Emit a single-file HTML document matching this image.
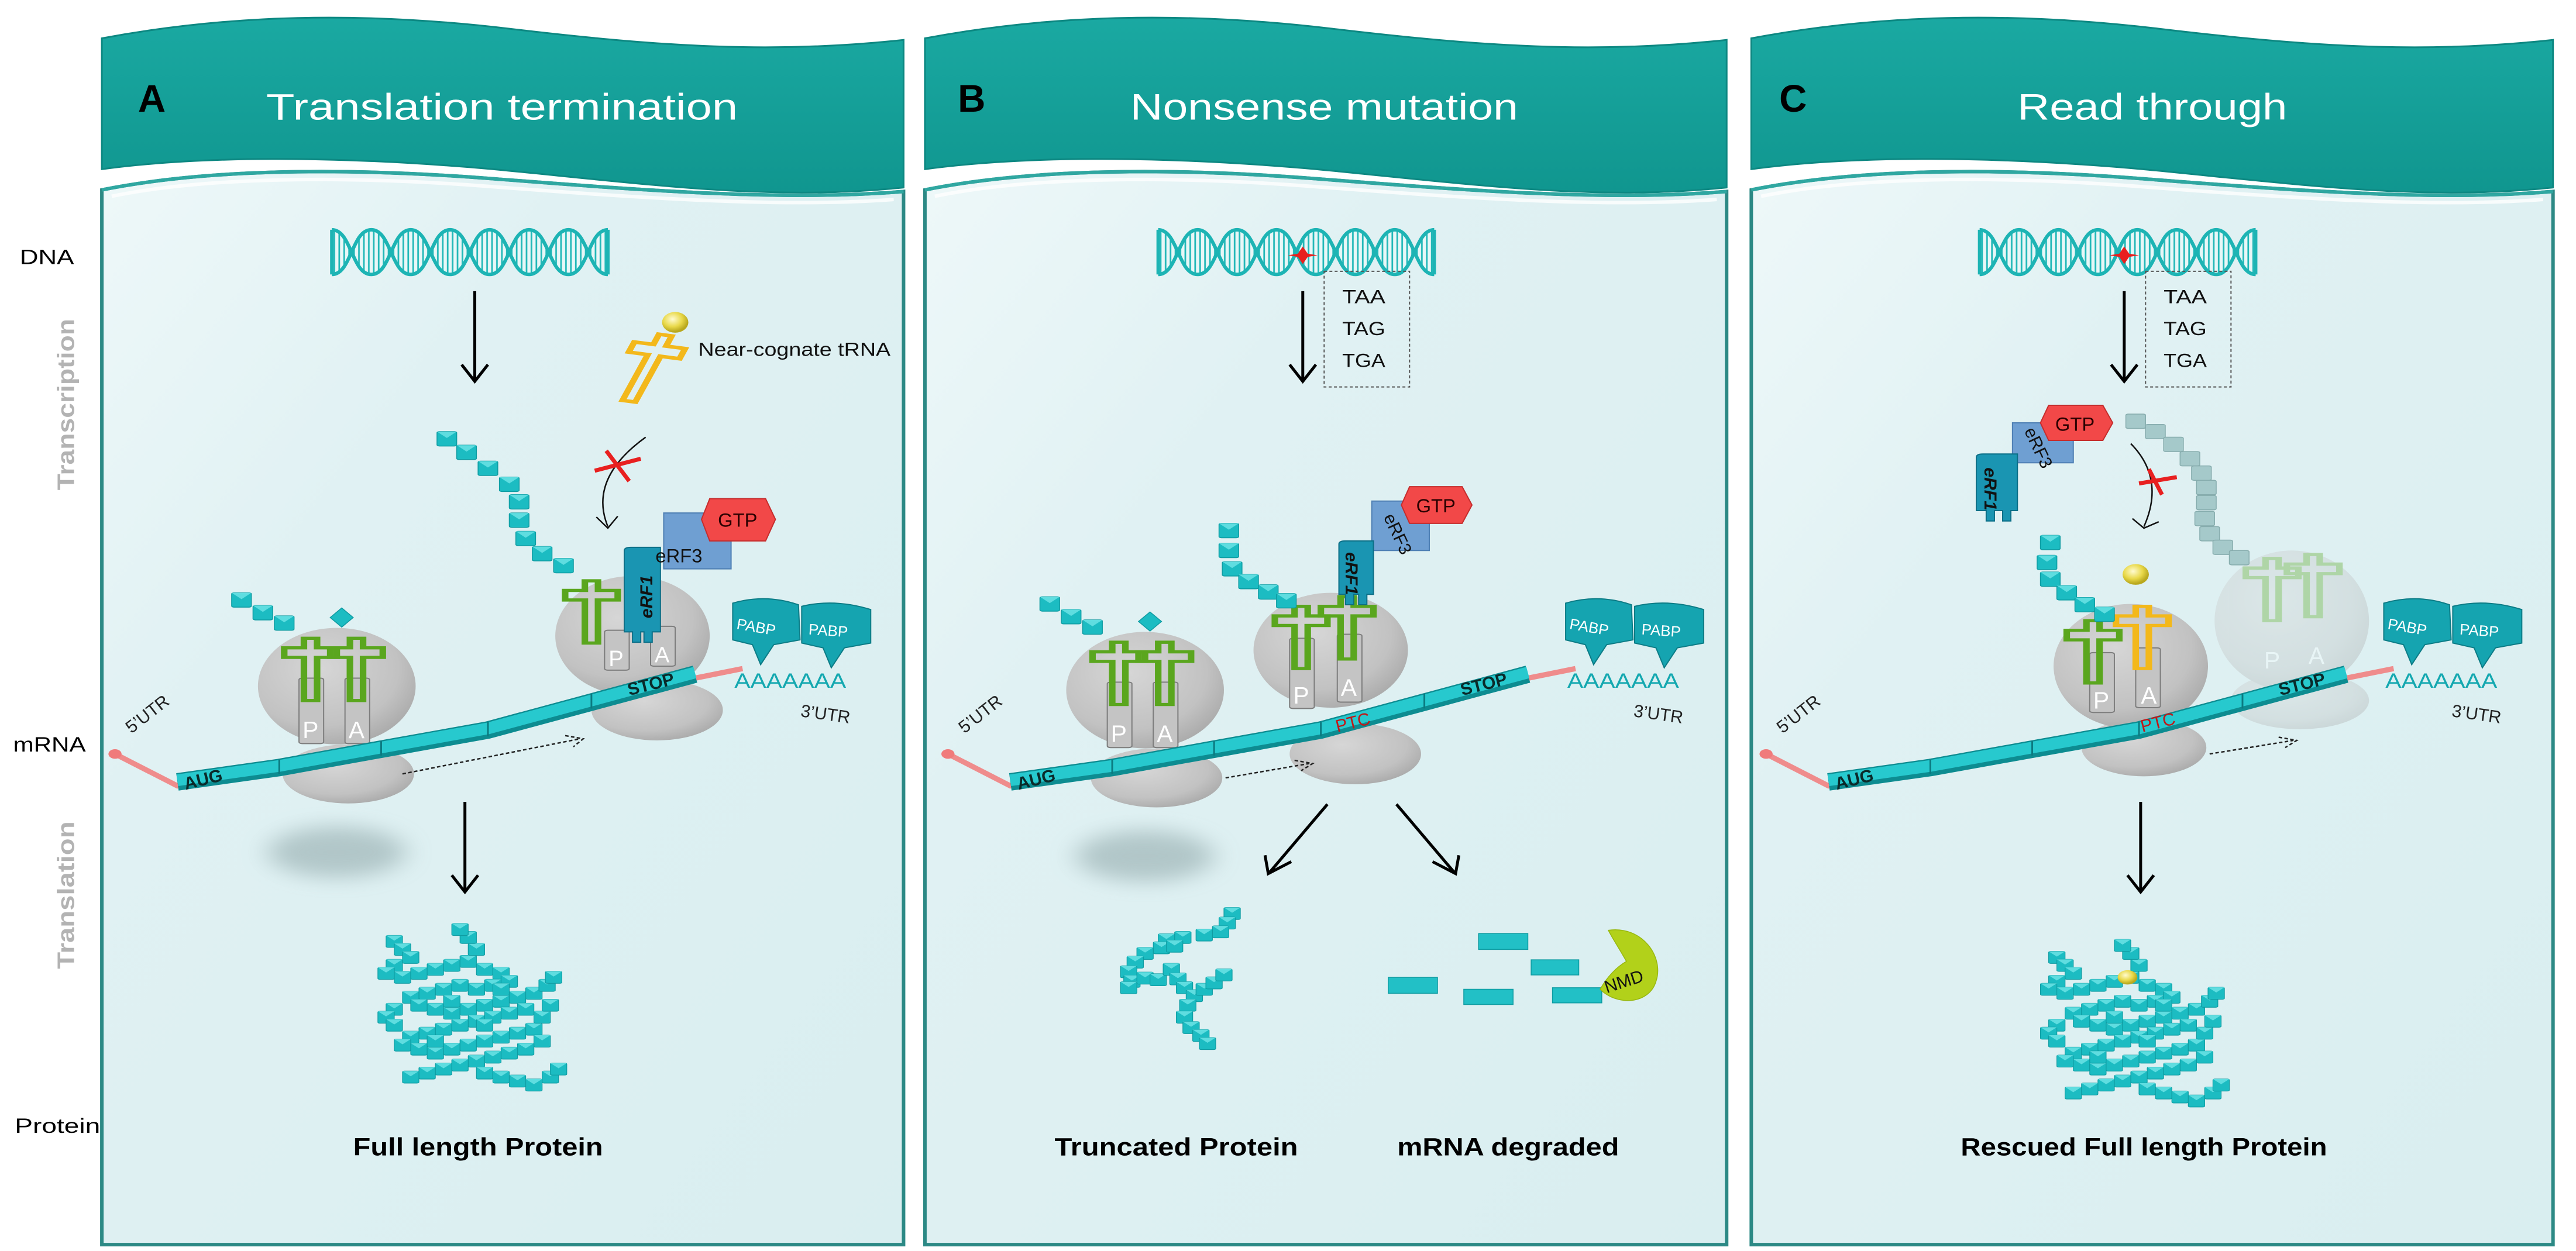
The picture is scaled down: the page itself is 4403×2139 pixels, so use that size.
<!DOCTYPE html>
<html><head><meta charset="utf-8"><style>
html,body{margin:0;padding:0;background:#fff;width:4403px;height:2139px;overflow:hidden}
svg{display:block}
text{font-family:"Liberation Sans",sans-serif}
</style></head><body>
<svg width="4403" height="2139" viewBox="0 0 1568 1568" preserveAspectRatio="none" xmlns="http://www.w3.org/2000/svg">
<defs>
<linearGradient id="hdr" x1="0" y1="0" x2="0" y2="1"><stop offset="0" stop-color="#1aa9a2"/><stop offset="1" stop-color="#10968f"/></linearGradient>
<linearGradient id="bod" x1="0" y1="0" x2="1" y2="1"><stop offset="0" stop-color="#eef8f9"/><stop offset=".3" stop-color="#e0f1f3"/><stop offset="1" stop-color="#d9eef0"/></linearGradient>
<radialGradient id="rib" cx=".4" cy=".35" r=".7"><stop offset="0" stop-color="#d6d6d6"/><stop offset=".7" stop-color="#c2c2c2"/><stop offset="1" stop-color="#a9a9a9"/></radialGradient>
<radialGradient id="ball" cx=".4" cy=".35" r=".6"><stop offset="0" stop-color="#fffbd0"/><stop offset=".6" stop-color="#e9d94a"/><stop offset="1" stop-color="#b9a81e"/></radialGradient>
<pattern id="rung" width="3" height="80" patternUnits="userSpaceOnUse"><rect x="0" y="0" width="3" height="80" fill="#e8f7f7"/><rect x="1" y="0" width="1" height="80" fill="#22b8b8"/></pattern>
<filter id="blur" x="-50%" y="-50%" width="200%" height="200%"><feGaussianBlur stdDeviation="8 12"/></filter>
<g id="dna">
  <path d="M0,-28 C12,-28 12,28 24,28 C36,28 36,-28 48,-28 C60,-28 60,28 72,28 C84,28 84,-28 96,-28 C108,-28 108,28 120,28 C132,28 132,-28 144,-28 C156,-28 156,28 168,28 L168,-28 C156,-28 156,28 144,28 C132,28 132,-28 120,-28 C108,-28 108,28 96,28 C84,28 84,-28 72,-28 C60,-28 60,28 48,28 C36,28 36,-28 24,-28 C12,-28 12,28 0,28 Z" fill="url(#rung)" fill-rule="evenodd" stroke="none"/>
  <path d="M0,-28 C12,-28 12,28 24,28 C36,28 36,-28 48,-28 C60,-28 60,28 72,28 C84,28 84,-28 96,-28 C108,-28 108,28 120,28 C132,28 132,-28 144,-28 C156,-28 156,28 168,28" fill="none" stroke="#1db4b4" stroke-width="6" vector-effect="non-scaling-stroke"/>
  <path d="M0,28 C12,28 12,-28 24,-28 C36,-28 36,28 48,28 C60,28 60,-28 72,-28 C84,-28 84,28 96,28 C108,28 108,-28 120,-28 C132,-28 132,28 144,28 C156,28 156,-28 168,-28" fill="none" stroke="#1db4b4" stroke-width="6" vector-effect="non-scaling-stroke"/>
  <path d="M0,-28 V28 M168,-28 V28" stroke="#1db4b4" stroke-width="6" vector-effect="non-scaling-stroke"/>
</g>
<g id="cb"><rect x="-6" y="-9" width="12" height="18" rx="1.5" fill="#1cbcc2" stroke="#0f9ca2" stroke-width="1.5" vector-effect="non-scaling-stroke"/><path d="M-6,-9 L0,-1 L6,-9" fill="#5fdde0" stroke="none"/></g>
<g id="gcb"><rect x="-6" y="-9" width="12" height="18" rx="1.5" fill="#a5c9ca" stroke="#86acad" stroke-width="1.5" vector-effect="non-scaling-stroke"/></g>
<g id="pc"><rect x="-5" y="-7.5" width="10" height="15" rx="1.2" fill="#1cbcc2" stroke="#0f9ca2" stroke-width="1.2" vector-effect="non-scaling-stroke"/><path d="M-5,-7.5 L0,-1 L5,-7.5" fill="#5fdde0"/></g>
<path id="trna" d="M-4,78 L-4,24 L-16,24 L-16,12 L-4,12 L-4,0 L4,0 L4,12 L16,12 L16,24 L4,24 L4,78 Z"/>
<g id="hdrshape">
  <path d="M62,48 C140,18 220,14 310,36 C400,58 470,68 550,50 L550,235 C470,252 400,232 300,212 C200,194 120,196 62,212 Z" fill="url(#hdr)" stroke="#0d8882" stroke-width="3" vector-effect="non-scaling-stroke"/>
  <path d="M62,238 C120,214 200,208 300,224 C400,240 480,252 550,240 L550,1560 L62,1560 Z" fill="url(#bod)" stroke="#2c8985" stroke-width="6" vector-effect="non-scaling-stroke"/>
  <path d="M68,246 C120,224 200,218 300,234 C400,250 480,260 544,250" fill="none" stroke="#ffffff" stroke-width="6" opacity=".8" vector-effect="non-scaling-stroke"/>
  <path d="M62,238 C120,214 200,208 300,224 C400,240 480,252 550,240" fill="none" stroke="#2fa7a1" stroke-width="6" vector-effect="non-scaling-stroke"/>
</g>
<g id="mrna">
  <path d="M70,945 L108,985 L170,967 L232,944 L297,920 L360,885 L423,850 L452,838" fill="none" stroke="#ef8c8c" stroke-width="9" vector-effect="non-scaling-stroke"/>
  <ellipse cx="70" cy="945" rx="4" ry="6" fill="#f07b7b"/>
  <path d="M108,980 L170,962 L232,939 L297,915 L360,880 L423,845" fill="none" stroke="#0d8c91" stroke-width="30" vector-effect="non-scaling-stroke"/>
  <path d="M108,978 L170,960 L232,937 L297,913 L360,878 L423,843" fill="none" stroke="#27c9ce" stroke-width="20" vector-effect="non-scaling-stroke"/>
  <path d="M170,952 V970 M232,929 V947 M297,905 V923 M360,870 V888" stroke="#0b7a80" stroke-width="3" vector-effect="non-scaling-stroke"/>
  <text transform="translate(113,990) scale(.4858,1) rotate(-14)" font-size="22" font-weight="bold" fill="#0a2a2a">AUG</text>
  <text transform="translate(383,872) scale(.4858,1) rotate(-14)" font-size="22" font-weight="bold" fill="#0a2a2a">STOP</text>
  <text transform="translate(80,920) scale(.4858,1) rotate(-38)" font-size="22" fill="#222">5’UTR</text>
  <text transform="translate(487,898) scale(.4858,1) rotate(8)" font-size="22" fill="#222">3’UTR</text>
  <text transform="translate(447,862) scale(.4858,1)" font-size="26" fill="#14a8b0" textLength="140" lengthAdjust="spacingAndGlyphs">AAAAAAA</text>
  <path d="M446,756 Q466,744 486,758 L487,802 L471,808 L463,833 L458,808 L446,802 Z" fill="#15a4b0" stroke="#0c7c86" stroke-width="2" vector-effect="non-scaling-stroke"/>
  <path d="M488,760 Q508,750 530,764 L530,806 L514,812 L506,837 L501,812 L488,806 Z" fill="#15a4b0" stroke="#0c7c86" stroke-width="2" vector-effect="non-scaling-stroke"/>
  <text transform="translate(448,788) scale(.4858,1) rotate(10)" font-size="19" fill="#fff">PABP</text>
  <text transform="translate(492,795) scale(.4858,1) rotate(4)" font-size="19" fill="#fff">PABP</text>
</g>
<g id="rib1">
  <ellipse cx="212" cy="970" rx="40" ry="37" fill="url(#rib)"/>
  <ellipse cx="205" cy="860" rx="48" ry="73" fill="url(#rib)"/>
  <rect x="182" y="850" width="15" height="82" rx="2" fill="#c4c4c4" stroke="#7d7d7d" stroke-width="2" vector-effect="non-scaling-stroke"/>
  <rect x="210" y="850" width="15" height="82" rx="2" fill="#c4c4c4" stroke="#7d7d7d" stroke-width="2" vector-effect="non-scaling-stroke"/>
  <use href="#trna" transform="translate(189,800)" fill="none" stroke="#5aa61e" stroke-width="4" vector-effect="non-scaling-stroke"/>
  <use href="#trna" transform="translate(217,800)" fill="none" stroke="#5aa61e" stroke-width="4" vector-effect="non-scaling-stroke"/>
  <text transform="translate(189,925) scale(.4858,1)" font-size="30" fill="#fff" text-anchor="middle">P</text>
  <text transform="translate(217,925) scale(.4858,1)" font-size="30" fill="#fff" text-anchor="middle">A</text>
  <use href="#cb" x="147" y="752"/><use href="#cb" x="160" y="768"/><use href="#cb" x="173" y="781"/>
  <path d="M208,762 L215,774 L208,786 L201,774 Z" fill="#1cbcc2" stroke="#0f9ca2" stroke-width="1.5" vector-effect="non-scaling-stroke"/>
</g>
<g id="shadow"><ellipse cx="205" cy="1068" rx="42" ry="32" fill="#9fb5b7" filter="url(#blur)" opacity=".7"/></g>
<g id="prot">
<use href="#pc" x="-45" y="-85"/><use href="#pc" x="-40" y="-75"/><use href="#pc" x="-35" y="-65"/><use href="#pc" x="-45" y="-55"/><use href="#pc" x="-50" y="-45"/><use href="#pc" x="-40" y="-40"/><use href="#pc" x="-30" y="-45"/><use href="#pc" x="-20" y="-50"/><use href="#pc" x="-10" y="-55"/><use href="#pc" x="0" y="-60"/><use href="#pc" x="5" y="-75"/><use href="#pc" x="0" y="-90"/><use href="#pc" x="-5" y="-100"/><use href="#pc" x="10" y="-50"/><use href="#pc" x="20" y="-45"/><use href="#pc" x="25" y="-35"/><use href="#pc" x="15" y="-30"/><use href="#pc" x="5" y="-25"/><use href="#pc" x="-5" y="-30"/><use href="#pc" x="-15" y="-25"/><use href="#pc" x="-25" y="-20"/><use href="#pc" x="-35" y="-15"/><use href="#pc" x="-30" y="-5"/><use href="#pc" x="-20" y="0"/><use href="#pc" x="-10" y="5"/><use href="#pc" x="0" y="0"/><use href="#pc" x="10" y="-5"/><use href="#pc" x="20" y="-10"/><use href="#pc" x="30" y="-15"/><use href="#pc" x="40" y="-20"/><use href="#pc" x="48" y="-30"/><use href="#pc" x="52" y="-40"/><use href="#pc" x="35" y="0"/><use href="#pc" x="25" y="5"/><use href="#pc" x="15" y="10"/><use href="#pc" x="5" y="15"/><use href="#pc" x="-5" y="20"/><use href="#pc" x="-15" y="25"/><use href="#pc" x="-25" y="30"/><use href="#pc" x="-35" y="35"/><use href="#pc" x="-40" y="45"/><use href="#pc" x="-30" y="50"/><use href="#pc" x="-20" y="55"/><use href="#pc" x="-10" y="50"/><use href="#pc" x="0" y="45"/><use href="#pc" x="10" y="40"/><use href="#pc" x="20" y="35"/><use href="#pc" x="30" y="30"/><use href="#pc" x="40" y="25"/><use href="#pc" x="45" y="40"/><use href="#pc" x="35" y="50"/><use href="#pc" x="25" y="55"/><use href="#pc" x="15" y="60"/><use href="#pc" x="5" y="65"/><use href="#pc" x="-5" y="70"/><use href="#pc" x="-15" y="75"/><use href="#pc" x="-25" y="80"/><use href="#pc" x="-35" y="85"/><use href="#pc" x="10" y="80"/><use href="#pc" x="20" y="85"/><use href="#pc" x="30" y="90"/><use href="#pc" x="40" y="95"/><use href="#pc" x="50" y="85"/><use href="#pc" x="55" y="75"/><use href="#pc" x="-45" y="0"/><use href="#pc" x="-50" y="10"/><use href="#pc" x="-45" y="20"/><use href="#pc" x="45" y="10"/><use href="#pc" x="50" y="-5"/><use href="#pc" x="-10" y="-10"/><use href="#pc" x="10" y="20"/><use href="#pc" x="-20" y="40"/><use href="#pc" x="20" y="-25"/>
</g>
<g id="box">
  <rect x="806" y="340" width="52" height="145" fill="none" stroke="#555" stroke-width="2" stroke-dasharray="5 4" vector-effect="non-scaling-stroke"/>
  <text transform="translate(817,380) scale(.4858,1)" font-size="24" fill="#111" textLength="54" lengthAdjust="spacingAndGlyphs">TAA</text>
  <text transform="translate(817,420) scale(.4858,1)" font-size="24" fill="#111" textLength="54" lengthAdjust="spacingAndGlyphs">TAG</text>
  <text transform="translate(817,460) scale(.4858,1)" font-size="24" fill="#111" textLength="54" lengthAdjust="spacingAndGlyphs">TGA</text>
  <path d="M793,309 L796,318 L802,320 L796,322 L793,331 L790,322 L784,320 L790,318 Z" fill="#e8201e"/>
</g>
<g id="varr"><path d="M0,0 V112 M-8,92 L0,113 L8,92" fill="none" stroke="#000" stroke-width="5" vector-effect="non-scaling-stroke"/></g>
</defs>

<rect width="1568" height="1568" fill="#fff"/>

<use href="#hdrshape"/>
<use href="#hdrshape" transform="translate(501,0)"/>
<use href="#hdrshape" transform="translate(1004,0)"/>

<text transform="translate(84,140) scale(.4858,1)" font-size="48" font-weight="bold" fill="#000">A</text>
<text transform="translate(162,150) scale(.4858,1)" font-size="46" fill="#fff" textLength="591" lengthAdjust="spacingAndGlyphs">Translation termination</text>
<text transform="translate(583,140) scale(.4858,1)" font-size="48" font-weight="bold" fill="#000">B</text>
<text transform="translate(688,150) scale(.4858,1)" font-size="46" fill="#fff" textLength="486" lengthAdjust="spacingAndGlyphs">Nonsense mutation</text>
<text transform="translate(1083,140) scale(.4858,1)" font-size="48" font-weight="bold" fill="#000">C</text>
<text transform="translate(1228,150) scale(.4858,1)" font-size="46" fill="#fff" textLength="338" lengthAdjust="spacingAndGlyphs">Read through</text>

<text transform="translate(12,331) scale(.4858,1)" font-size="26" fill="#000" textLength="68" lengthAdjust="spacingAndGlyphs">DNA</text>
<text transform="translate(8,942) scale(.4858,1)" font-size="26" fill="#000" textLength="91" lengthAdjust="spacingAndGlyphs">mRNA</text>
<text transform="translate(9,1420) scale(.4858,1)" font-size="26" fill="#000" textLength="107" lengthAdjust="spacingAndGlyphs">Protein</text>
<text transform="translate(45,507) scale(.4858,1) rotate(-90)" font-size="30" font-weight="bold" fill="#b3b3b3" text-anchor="middle" textLength="215" lengthAdjust="spacingAndGlyphs">Transcription</text>
<text transform="translate(45,1122) scale(.4858,1) rotate(-90)" font-size="30" font-weight="bold" fill="#b3b3b3" text-anchor="middle" textLength="185" lengthAdjust="spacingAndGlyphs">Translation</text>

<!-- Panel A -->
<use href="#dna" transform="translate(202,316)"/>
<use href="#varr" transform="translate(289,365)"/>
<ellipse cx="411" cy="404" rx="8" ry="13" fill="url(#ball)"/>
<use href="#trna" transform="translate(405,420) rotate(15) scale(1,1.1)" fill="none" stroke="#f3b81b" stroke-width="4" vector-effect="non-scaling-stroke"/>
<text transform="translate(425,446) scale(.4858,1)" font-size="24" fill="#111" textLength="241" lengthAdjust="spacingAndGlyphs">Near-cognate tRNA</text>
<path d="M393,548 Q358,600 370,660 M363,648 L370,662 L376,647" fill="none" stroke="#111" stroke-width="2.5" vector-effect="non-scaling-stroke"/>
<path d="M369,565 L383,603 M362,590 L390,575" stroke="#e82020" stroke-width="7" vector-effect="non-scaling-stroke"/>
<use href="#shadow"/>
<use href="#rib1"/>
<ellipse cx="400" cy="890" rx="40" ry="38" fill="url(#rib)"/>
<ellipse cx="385" cy="797" rx="47" ry="75" fill="url(#rib)"/>
<rect x="368" y="790" width="15" height="50" rx="2" fill="#c4c4c4" stroke="#7d7d7d" stroke-width="2" vector-effect="non-scaling-stroke"/>
<rect x="396" y="785" width="15" height="50" rx="2" fill="#c4c4c4" stroke="#7d7d7d" stroke-width="2" vector-effect="non-scaling-stroke"/>
<use href="#trna" transform="translate(360,728)" fill="none" stroke="#5aa61e" stroke-width="4" vector-effect="non-scaling-stroke"/>
<text transform="translate(375,835) scale(.4858,1)" font-size="28" fill="#fff" text-anchor="middle">P</text>
<text transform="translate(403,830) scale(.4858,1)" font-size="28" fill="#fff" text-anchor="middle">A</text>
<path d="M404,643 H445 V713 H404 Z" fill="#6f9fd2" stroke="#4e7fb3" stroke-width="2" vector-effect="non-scaling-stroke"/>
<path d="M380,690 Q380,686 384,686 H402 V792 H397 V805 H392 V792 H390 V805 H385 V792 H380 Z" fill="#1a95b2" stroke="#0c6f87" stroke-width="2" vector-effect="non-scaling-stroke"/>
<text transform="translate(397,775) scale(.4858,1) rotate(-90)" font-size="22" font-style="italic" font-weight="bold" fill="#111">eRF1</text>
<text transform="translate(399,705) scale(.4858,1)" font-size="24" fill="#111">eRF3</text>
<polygon points="432,625 466,625 472,651 466,678 432,678 427,651" fill="#f24848" stroke="#c52d2d" stroke-width="2" vector-effect="non-scaling-stroke"/>
<text transform="translate(449,660) scale(.4858,1)" font-size="24" fill="#2a0000" text-anchor="middle">GTP</text>
<use href="#cb" x="272" y="550"/><use href="#cb" x="284" y="567"/><use href="#cb" x="297" y="587"/><use href="#cb" x="310" y="607"/><use href="#cb" x="316" y="629"/><use href="#cb" x="316" y="652"/><use href="#cb" x="320" y="675"/><use href="#cb" x="330" y="694"/><use href="#cb" x="343" y="709"/>
<use href="#mrna"/>
<path d="M245,970 L353,926 M344,922 L355,926 L349,936" fill="none" stroke="#222" stroke-width="2.5" stroke-dasharray="6 4" vector-effect="non-scaling-stroke"/>
<use href="#varr" transform="translate(283,1005)"/>
<use href="#prot" transform="translate(285,1265)"/>
<text transform="translate(291,1448) scale(.4858,1)" font-size="31" font-weight="bold" fill="#000" text-anchor="middle" textLength="313" lengthAdjust="spacingAndGlyphs">Full length Protein</text>

<!-- Panel B -->
<use href="#dna" transform="translate(705,316)"/>
<use href="#box"/>
<use href="#varr" transform="translate(793,365)"/>
<use href="#shadow" transform="translate(492,5)"/>
<use href="#rib1" transform="translate(492,5)"/>
<ellipse cx="825" cy="945" rx="40" ry="38" fill="url(#rib)"/>
<ellipse cx="810" cy="815" rx="47" ry="72" fill="url(#rib)"/>
<rect x="785" y="800" width="15" height="88" rx="2" fill="#c4c4c4" stroke="#7d7d7d" stroke-width="2" vector-effect="non-scaling-stroke"/>
<rect x="814" y="795" width="15" height="85" rx="2" fill="#c4c4c4" stroke="#7d7d7d" stroke-width="2" vector-effect="non-scaling-stroke"/>
<use href="#trna" transform="translate(792,760)" fill="none" stroke="#5aa61e" stroke-width="4" vector-effect="non-scaling-stroke"/>
<use href="#trna" transform="translate(820,748)" fill="none" stroke="#5aa61e" stroke-width="4" vector-effect="non-scaling-stroke"/>
<text transform="translate(792,882) scale(.4858,1)" font-size="30" fill="#fff" text-anchor="middle">P</text>
<text transform="translate(821,872) scale(.4858,1)" font-size="30" fill="#fff" text-anchor="middle">A</text>
<path d="M835,628 H870 V690 H835 Z" fill="#6f9fd2" stroke="#4e7fb3" stroke-width="2" vector-effect="non-scaling-stroke"/>
<path d="M815,682 Q815,678 819,678 H836 V745 H832 V758 H827 V745 H824 V758 H819 V745 H815 Z" fill="#1a95b2" stroke="#0c6f87" stroke-width="2" vector-effect="non-scaling-stroke"/>
<text transform="translate(819,692) scale(.4858,1) rotate(90)" font-size="22" font-style="italic" font-weight="bold" fill="#111">eRF1</text>
<text transform="translate(842,648) scale(.4858,1) rotate(65)" font-size="22" fill="#111">eRF3</text>
<polygon points="858,610 890,610 896,633 890,656 858,656 853,633" fill="#f24848" stroke="#c52d2d" stroke-width="2" vector-effect="non-scaling-stroke"/>
<text transform="translate(874,642) scale(.4858,1)" font-size="24" fill="#2a0000" text-anchor="middle">GTP</text>
<use href="#cb" x="748" y="665"/><use href="#cb" x="748" y="690"/><use href="#cb" x="750" y="713"/><use href="#cb" x="760" y="729"/><use href="#cb" x="772" y="742"/><use href="#cb" x="783" y="753"/>
<use href="#mrna" transform="translate(507,0)"/>
<text transform="translate(814,918) scale(.4858,1) rotate(-14)" font-size="22" fill="#c01818">PTC</text>
<path d="M746,975 L797,957 M788,953 L799,957 L792,966" fill="none" stroke="#222" stroke-width="2.5" stroke-dasharray="6 4" vector-effect="non-scaling-stroke"/>
<path d="M808,1008 L773,1093 M770,1072 L772,1095 L786,1080" fill="none" stroke="#000" stroke-width="5" vector-effect="non-scaling-stroke"/>
<path d="M850,1008 L885,1093 M872,1080 L886,1095 L888,1072" fill="none" stroke="#000" stroke-width="5" vector-effect="non-scaling-stroke"/>
<g transform="translate(725,1230)">
<use href="#pc" x="25" y="-85"/><use href="#pc" x="22" y="-73"/><use href="#pc" x="18" y="-62"/><use href="#pc" x="8" y="-58"/><use href="#pc" x="-5" y="-55"/><use href="#pc" x="-15" y="-52"/><use href="#pc" x="-18" y="-42"/><use href="#pc" x="-28" y="-35"/><use href="#pc" x="-34" y="-24"/><use href="#pc" x="-38" y="-12"/><use href="#pc" x="-36" y="0"/><use href="#pc" x="-28" y="-4"/><use href="#pc" x="-20" y="-2"/><use href="#pc" x="-12" y="-15"/><use href="#pc" x="-8" y="-3"/><use href="#pc" x="-4" y="8"/><use href="#pc" x="2" y="18"/><use href="#pc" x="8" y="10"/><use href="#pc" x="14" y="2"/><use href="#pc" x="20" y="-8"/><use href="#pc" x="-2" y="30"/><use href="#pc" x="-4" y="45"/><use href="#pc" x="0" y="58"/><use href="#pc" x="6" y="68"/><use href="#pc" x="10" y="78"/><use href="#pc" x="-38" y="8"/><use href="#pc" x="-10" y="-44"/>
</g>
<g fill="#22c0c6" stroke="#0f9ca2" stroke-width="1.5">
<rect x="900" y="1170" width="30" height="20" vector-effect="non-scaling-stroke"/>
<rect x="845" y="1225" width="30" height="20" vector-effect="non-scaling-stroke"/>
<rect x="891" y="1240" width="30" height="19" vector-effect="non-scaling-stroke"/>
<rect x="932" y="1203" width="29" height="19" vector-effect="non-scaling-stroke"/>
<rect x="945" y="1238" width="30" height="19" vector-effect="non-scaling-stroke"/>
</g>
<path d="M979,1166 C1000,1160 1013,1200 1008,1230 C1004,1258 985,1262 974,1240 C978,1225 984,1212 990,1205 C986,1190 982,1178 979,1166 Z" fill="#b2d11a" stroke="#98b810" stroke-width="1.5" vector-effect="non-scaling-stroke"/>
<text transform="translate(978,1245) scale(.4858,1) rotate(-18)" font-size="22" fill="#111">NMD</text>
<text transform="translate(716,1448) scale(.4858,1)" font-size="31" font-weight="bold" fill="#000" text-anchor="middle" textLength="305" lengthAdjust="spacingAndGlyphs">Truncated Protein</text>
<text transform="translate(918,1448) scale(.4858,1)" font-size="31" font-weight="bold" fill="#000" text-anchor="middle" textLength="278" lengthAdjust="spacingAndGlyphs">mRNA degraded</text>

<!-- Panel C -->
<use href="#dna" transform="translate(1205,316)"/>
<use href="#box" transform="translate(500,0)"/>
<use href="#varr" transform="translate(1293,365)"/>
<g opacity=".35">
<ellipse cx="1400" cy="878" rx="42" ry="36" fill="url(#rib)"/>
<ellipse cx="1395" cy="778" rx="47" ry="88" fill="url(#rib)"/>
<use href="#trna" transform="translate(1383,700)" fill="none" stroke="#5aa61e" stroke-width="4" vector-effect="non-scaling-stroke"/>
<use href="#trna" transform="translate(1408,695)" fill="none" stroke="#5aa61e" stroke-width="4" vector-effect="non-scaling-stroke"/>
<text transform="translate(1383,838) scale(.4858,1)" font-size="30" fill="#fff" text-anchor="middle">P</text>
<text transform="translate(1410,832) scale(.4858,1)" font-size="30" fill="#fff" text-anchor="middle">A</text>
</g>
<ellipse cx="1305" cy="937" rx="38" ry="36" fill="url(#rib)"/>
<ellipse cx="1297" cy="835" rx="47" ry="78" fill="url(#rib)"/>
<rect x="1272" y="818" width="15" height="75" rx="2" fill="#c4c4c4" stroke="#7d7d7d" stroke-width="2" vector-effect="non-scaling-stroke"/>
<rect x="1300" y="812" width="15" height="75" rx="2" fill="#c4c4c4" stroke="#7d7d7d" stroke-width="2" vector-effect="non-scaling-stroke"/>
<use href="#trna" transform="translate(1274,778)" fill="none" stroke="#5aa61e" stroke-width="4" vector-effect="non-scaling-stroke"/>
<use href="#trna" transform="translate(1304,760)" fill="none" stroke="#f3b81b" stroke-width="4" vector-effect="non-scaling-stroke"/>
<ellipse cx="1300" cy="720" rx="8" ry="13" fill="url(#ball)"/>
<text transform="translate(1279,888) scale(.4858,1)" font-size="30" fill="#fff" text-anchor="middle">P</text>
<text transform="translate(1308,882) scale(.4858,1)" font-size="30" fill="#fff" text-anchor="middle">A</text>
<path d="M1225,530 H1262 V580 H1225 Z" fill="#6f9fd2" stroke="#4e7fb3" stroke-width="2" vector-effect="non-scaling-stroke"/>
<path d="M1203,573 Q1203,569 1207,569 H1228 V640 H1224 V653 H1219 V640 H1214 V653 H1209 V640 H1203 Z" fill="#1a95b2" stroke="#0c6f87" stroke-width="2" vector-effect="non-scaling-stroke"/>
<text transform="translate(1208,586) scale(.4858,1) rotate(90)" font-size="22" font-style="italic" font-weight="bold" fill="#111">eRF1</text>
<text transform="translate(1232,540) scale(.4858,1) rotate(65)" font-size="22" fill="#111">eRF3</text>
<polygon points="1247,508 1280,508 1286,530 1280,552 1247,552 1242,530" fill="#f24848" stroke="#c52d2d" stroke-width="2" vector-effect="non-scaling-stroke"/>
<text transform="translate(1263,540) scale(.4858,1)" font-size="24" fill="#2a0000" text-anchor="middle">GTP</text>
<use href="#gcb" x="1300" y="528"/><use href="#gcb" x="1312" y="541"/><use href="#gcb" x="1323" y="557"/><use href="#gcb" x="1333" y="575"/><use href="#gcb" x="1340" y="593"/><use href="#gcb" x="1343" y="611"/><use href="#gcb" x="1343" y="630"/><use href="#gcb" x="1342" y="650"/><use href="#gcb" x="1345" y="669"/><use href="#gcb" x="1353" y="686"/><use href="#gcb" x="1363" y="699"/>
<path d="M1297,556 Q1318,600 1305,660 M1298,650 L1305,662 L1314,654" fill="none" stroke="#111" stroke-width="2.5" vector-effect="non-scaling-stroke"/>
<path d="M1308,588 L1316,620 M1302,606 L1325,598" stroke="#e82020" stroke-width="7" vector-effect="non-scaling-stroke"/>
<use href="#cb" x="1248" y="680"/><use href="#cb" x="1246" y="705"/><use href="#cb" x="1248" y="726"/><use href="#cb" x="1258" y="743"/><use href="#cb" x="1269" y="758"/><use href="#cb" x="1281" y="770"/>
<use href="#mrna" transform="translate(1005,0)"/>
<text transform="translate(1304,918) scale(.4858,1) rotate(-14)" font-size="22" fill="#c01818">PTC</text>
<path d="M1345,945 L1396,928 M1387,924 L1398,928 L1391,937" fill="none" stroke="#222" stroke-width="2.5" stroke-dasharray="6 4" vector-effect="non-scaling-stroke"/>
<use href="#varr" transform="translate(1303,1005)"/>
<use href="#prot" transform="translate(1297,1285)"/>
<ellipse cx="1295" cy="1225" rx="6" ry="9" fill="url(#ball)"/>
<text transform="translate(1305,1448) scale(.4858,1)" font-size="31" font-weight="bold" fill="#000" text-anchor="middle" textLength="459" lengthAdjust="spacingAndGlyphs">Rescued Full length Protein</text>
</svg>
</body></html>
